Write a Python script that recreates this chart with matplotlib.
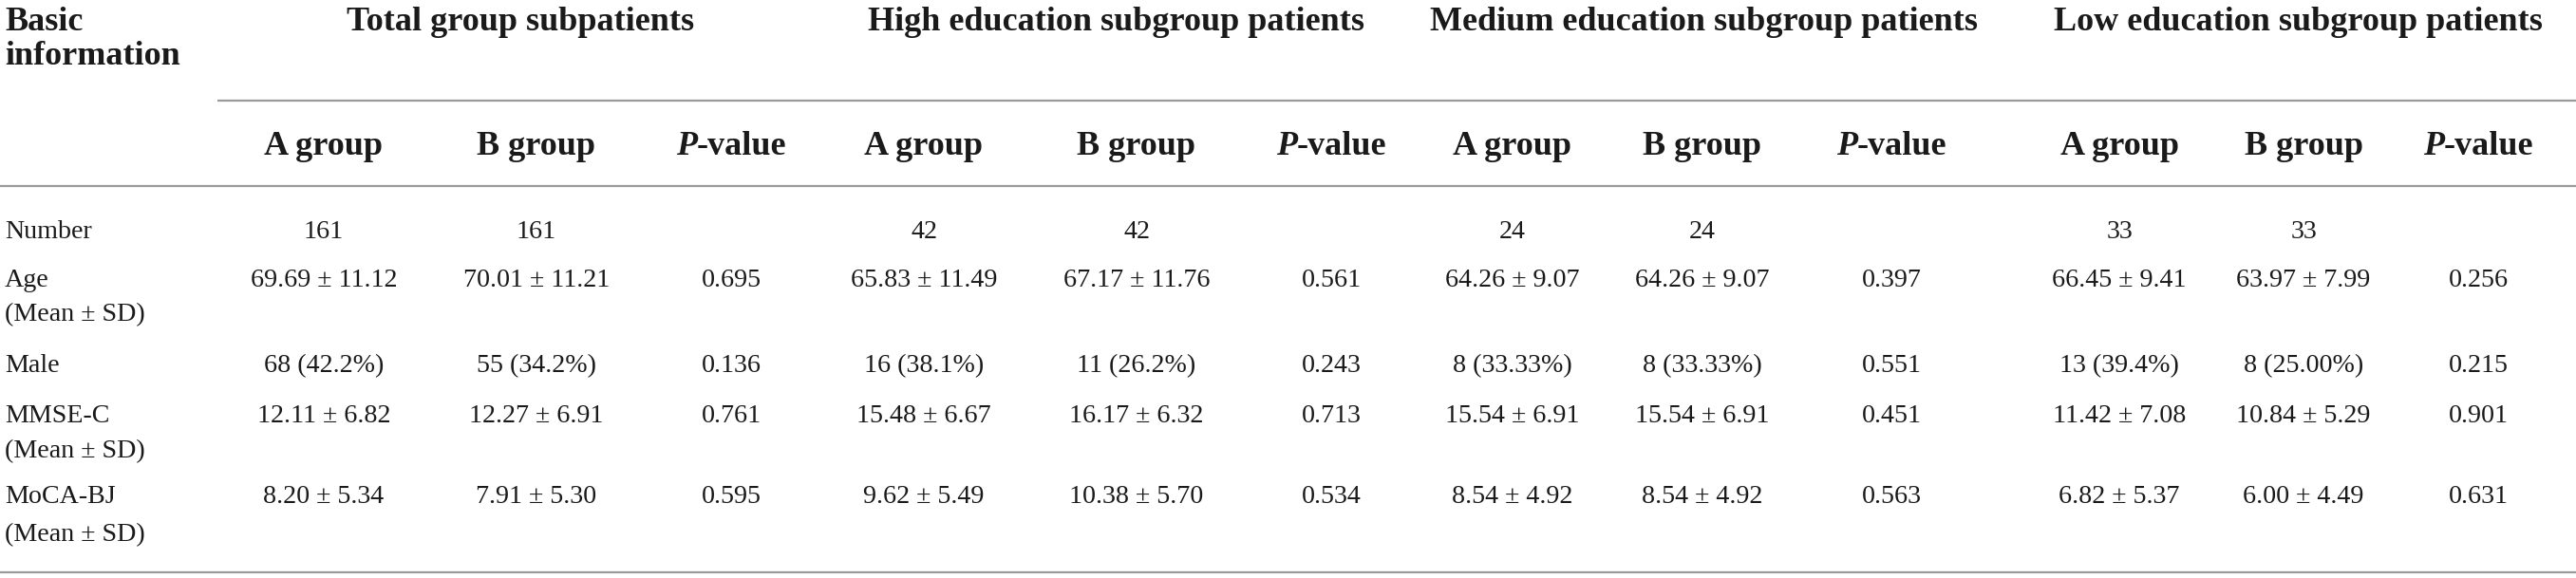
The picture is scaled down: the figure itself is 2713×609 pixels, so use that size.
import matplotlib
matplotlib.use("Agg")
import matplotlib.pyplot as plt

# ---------------- data ----------------
group_names = ["Total group subpatients", "High education subgroup patients",
               "Medium education subgroup patients", "Low education subgroup patients"]
sub_headers = ["A group", "B group", "P-value"]
stub_header = ["Basic", "information"]

row_main = ["Number", "Age", "Male", "MMSE-C", "MoCA-BJ"]
row_sub = ["", "(Mean ± SD)", "", "(Mean ± SD)", "(Mean ± SD)"]

number_row = ["161", "161", "", "42", "42", "", "24", "24", "", "33", "33", ""]
age_row = ["69.69 ± 11.12", "70.01 ± 11.21", "0.695",
           "65.83 ± 11.49", "67.17 ± 11.76", "0.561",
           "64.26 ± 9.07", "64.26 ± 9.07", "0.397",
           "66.45 ± 9.41", "63.97 ± 7.99", "0.256"]
male_row = ["68 (42.2%)", "55 (34.2%)", "0.136",
            "16 (38.1%)", "11 (26.2%)", "0.243",
            "8 (33.33%)", "8 (33.33%)", "0.551",
            "13 (39.4%)", "8 (25.00%)", "0.215"]
mmse_row = ["12.11 ± 6.82", "12.27 ± 6.91", "0.761",
            "15.48 ± 6.67", "16.17 ± 6.32", "0.713",
            "15.54 ± 6.91", "15.54 ± 6.91", "0.451",
            "11.42 ± 7.08", "10.84 ± 5.29", "0.901"]
moca_row = ["8.20 ± 5.34", "7.91 ± 5.30", "0.595",
            "9.62 ± 5.49", "10.38 ± 5.70", "0.534",
            "8.54 ± 4.92", "8.54 ± 4.92", "0.563",
            "6.82 ± 5.37", "6.00 ± 4.49", "0.631"]
table_rows = [number_row, age_row, male_row, mmse_row, moca_row]

# ---------------- layout ----------------
W, H = 2713, 609
FONT = "Liberation Serif"
TXT = "#1a1a1a"
RULE = "#9a9a9a"
BODY_FS = 20.2
HEAD_FS = 26.0

col_x = [341, 565, 770, 973, 1197, 1402, 1593, 1793, 1992, 2232, 2426, 2610]
group_cx = [548, 1175, 1795, 2420]
label_x = 5

head_base = [32, 68]
sub_base = 163
row_base = [251, 302, 392, 445, 530]
row_sub_base = [None, 338, None, 482, 570]

fig = plt.figure(figsize=(W / 100, H / 100), dpi=100)
ax = fig.add_axes([0, 0, 1, 1])
ax.set_xlim(0, W)
ax.set_ylim(H, 0)
ax.axis("off")

# rules
ax.hlines(106, 229, W, color=RULE, lw=1.6)
ax.hlines(196, 0, W, color=RULE, lw=1.6)
ax.hlines(603, 0, W, color=RULE, lw=1.6)

# stub header
for s, yb in zip(stub_header, head_base):
    ax.text(label_x, yb, s, family=FONT, fontsize=HEAD_FS, fontweight="bold",
            ha="left", va="baseline", color=TXT)

# group headers
for name, cx in zip(group_names, group_cx):
    ax.text(cx, head_base[0], name, family=FONT, fontsize=HEAD_FS, fontweight="bold",
            ha="center", va="baseline", color=TXT)

# sub headers
renderer = fig.canvas.get_renderer()
for i, cx in enumerate(col_x):
    lab = sub_headers[i % 3]
    if lab.startswith("P-"):
        t1 = ax.text(0, sub_base, "P", family=FONT, fontsize=HEAD_FS, fontweight="bold",
                     style="italic", ha="left", va="baseline", color=TXT)
        t2 = ax.text(0, sub_base, lab[1:], family=FONT, fontsize=HEAD_FS, fontweight="bold",
                     ha="left", va="baseline", color=TXT)
        w1 = t1.get_window_extent(renderer).width
        w2 = t2.get_window_extent(renderer).width
        left = cx - (w1 + w2) / 2
        t1.set_x(left)
        t2.set_x(left + w1)
    else:
        ax.text(cx, sub_base, lab, family=FONT, fontsize=HEAD_FS, fontweight="bold",
                ha="center", va="baseline", color=TXT)

# body
for r, (main, sub, vals) in enumerate(zip(row_main, row_sub, table_rows)):
    ax.text(label_x, row_base[r], main, family=FONT, fontsize=BODY_FS,
            ha="left", va="baseline", color=TXT)
    if sub:
        ax.text(label_x, row_sub_base[r], sub, family=FONT, fontsize=BODY_FS,
                ha="left", va="baseline", color=TXT)
    for cx, v in zip(col_x, vals):
        if v:
            ax.text(cx, row_base[r], v, family=FONT, fontsize=BODY_FS,
                    ha="center", va="baseline", color=TXT)

fig.savefig("out.png", dpi=100, facecolor="white")
